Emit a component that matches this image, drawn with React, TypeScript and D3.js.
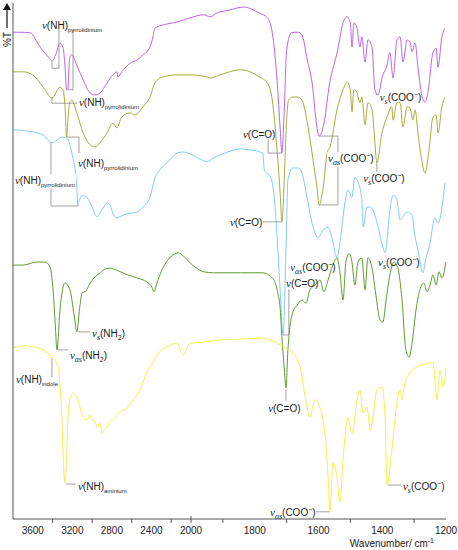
import React, { useEffect, useRef } from "react";
import * as d3 from "d3";

// spectra: [wavenumber / cm-1, %T (offset, arbitrary)]
const purple: [number, number][] = [
  [3800, 94.7], [3730, 94.7], [3630, 94.6], [3525, 91.8], [3425, 89.5], [3405, 89.1], [3365, 90.5],
  [3325, 92.6], [3295, 91.8], [3275, 88.3], [3258, 83.5], [3245, 83.5], [3235, 87.4], [3225, 89.9],
  [3205, 90.3], [3155, 88.3], [3090, 85.4], [3020, 82.9], [2970, 82.5], [2920, 82.9], [2850, 84.8],
  [2790, 86.4], [2750, 87.0], [2740, 86.0], [2700, 87.0], [2615, 88.7], [2545, 89.3], [2485, 90.3],
  [2415, 91.8], [2385, 93.8], [2365, 95.5], [2285, 96.1], [2140, 96.7], [2010, 97.5], [1960, 98.1],
  [1940, 97.7], [1920, 98.4], [1880, 99.0], [1835, 99.6], [1785, 98.4], [1760, 97.5], [1745, 94.6],
  [1730, 85.4], [1720, 75.7], [1715, 71.2], [1708, 78.6], [1700, 91.2], [1685, 94.6], [1665, 94.7],
  [1652, 94.2], [1635, 89.3], [1620, 84.8], [1605, 76.3], [1598, 74.5], [1585, 76.3], [1565, 84.8],
  [1540, 91.2], [1523, 96.5], [1510, 97.7], [1500, 96.5], [1495, 91.8], [1489, 96.5], [1480, 95.7],
  [1470, 91.8], [1464, 93.8], [1454, 88.9], [1445, 93.2], [1432, 91.8], [1423, 83.5], [1413, 82.5],
  [1400, 86.0], [1385, 88.3], [1376, 90.7], [1366, 85.8], [1354, 93.2], [1344, 93.8], [1335, 88.9],
  [1322, 93.2], [1313, 92.8], [1307, 90.9], [1297, 92.6], [1288, 87.9], [1276, 82.5], [1266, 81.1],
  [1257, 82.9], [1241, 90.7], [1231, 91.6], [1225, 87.9], [1213, 93.8], [1203, 95.5],
];

const olive: [number, number][] = [
  [3800, 87.0], [3700, 87.0], [3600, 86.4], [3495, 84.0], [3405, 81.9], [3325, 84.0], [3295, 83.5],
  [3275, 80.5], [3258, 74.3], [3245, 77.6], [3225, 81.1], [3205, 81.5], [3155, 79.0], [3090, 75.1],
  [3020, 72.8], [2970, 72.4], [2920, 73.2], [2850, 75.1], [2790, 77.0], [2750, 76.1], [2700, 78.2],
  [2615, 79.0], [2565, 78.6], [2485, 80.2], [2415, 82.1], [2365, 84.8], [2285, 86.0], [2140, 86.4],
  [2010, 86.4], [1950, 86.0], [1940, 85.8], [1900, 86.6], [1845, 87.4], [1785, 86.0], [1760, 84.8],
  [1745, 81.5], [1730, 71.8], [1720, 63.0], [1715, 57.8], [1708, 65.0], [1702, 75.1], [1694, 81.5],
  [1680, 82.1], [1667, 82.1], [1652, 81.5], [1633, 76.3], [1617, 69.8], [1605, 64.6], [1598, 61.1],
  [1585, 64.6], [1573, 71.2], [1564, 72.4], [1542, 79.6], [1523, 83.5], [1510, 85.0], [1500, 83.5],
  [1495, 79.2], [1489, 83.5], [1480, 83.1], [1470, 81.0], [1464, 82.1], [1454, 76.7], [1445, 81.0],
  [1432, 79.6], [1423, 73.2], [1417, 69.3], [1401, 75.1], [1385, 78.2], [1370, 80.2], [1366, 77.6],
  [1354, 81.0], [1344, 81.0], [1335, 76.3], [1322, 80.2], [1313, 80.0], [1304, 77.6], [1297, 79.6],
  [1288, 75.1], [1276, 69.8], [1266, 67.3], [1257, 70.0], [1250, 73.7], [1241, 78.2], [1231, 78.6],
  [1225, 75.1], [1213, 80.2], [1203, 82.1],
];

const lightBlue: [number, number][] = [
  [3800, 75.7], [3660, 75.5], [3495, 74.7], [3405, 73.2], [3355, 73.7], [3305, 74.3], [3255, 74.1],
  [3205, 71.2], [3155, 64.6], [3145, 61.5], [3100, 63.0], [3050, 62.5], [3000, 60.7], [2950, 58.8],
  [2900, 60.1], [2850, 61.5], [2820, 61.1], [2790, 59.5], [2750, 58.6], [2690, 59.1], [2615, 59.5],
  [2545, 59.7], [2485, 60.7], [2415, 62.6], [2365, 66.3], [2315, 67.9], [2215, 69.8], [2140, 71.2],
  [2080, 71.4], [1995, 70.8], [1965, 69.8], [1950, 69.5], [1930, 70.2], [1885, 71.4], [1845, 72.0],
  [1815, 71.8], [1775, 71.2], [1770, 67.9], [1750, 66.5], [1737, 61.5], [1727, 51.8], [1721, 45.3],
  [1711, 35.8], [1702, 52.3], [1696, 66.0], [1680, 68.3], [1664, 68.3], [1652, 67.3], [1636, 62.6],
  [1617, 56.8], [1602, 54.7], [1586, 56.2], [1570, 56.8], [1558, 54.7], [1542, 50.8], [1533, 53.7],
  [1517, 61.5], [1508, 64.0], [1495, 62.6], [1486, 66.5], [1476, 65.6], [1464, 62.1], [1460, 56.8],
  [1448, 60.7], [1438, 60.7], [1429, 60.1], [1413, 56.8], [1398, 52.9], [1391, 51.8], [1376, 60.1],
  [1366, 63.0], [1354, 62.1], [1344, 58.2], [1335, 58.8], [1322, 59.7], [1307, 59.1], [1297, 54.9],
  [1288, 52.3], [1272, 47.9], [1266, 49.8], [1250, 53.7], [1235, 58.6], [1225, 57.6], [1203, 65.4],
];

const green: [number, number][] = [
  [3800, 49.4], [3700, 49.4], [3555, 50.0], [3475, 50.0], [3425, 49.0], [3395, 44.6], [3375, 38.7],
  [3355, 32.9], [3325, 40.7], [3275, 45.9], [3225, 44.6], [3175, 38.7], [3155, 36.4], [3125, 41.2],
  [3100, 44.0], [3070, 44.2], [3020, 45.9], [2970, 47.1], [2920, 47.9], [2890, 48.4], [2820, 48.8],
  [2750, 48.4], [2645, 47.5], [2545, 46.9], [2445, 46.1], [2395, 45.1], [2375, 44.2], [2345, 45.9],
  [2295, 48.4], [2215, 50.8], [2130, 51.8], [2080, 51.2], [1995, 49.4], [1960, 48.1], [1930, 47.9],
  [1845, 47.9], [1775, 47.9], [1745, 46.9], [1730, 44.6], [1720, 40.7], [1715, 35.5], [1708, 29.8],
  [1702, 25.5], [1696, 32.9], [1689, 37.7], [1680, 40.3], [1667, 41.6], [1652, 42.6], [1639, 42.0],
  [1627, 44.6], [1611, 45.5], [1595, 46.5], [1583, 44.2], [1570, 46.5], [1555, 49.4], [1542, 50.8],
  [1533, 48.1], [1523, 42.6], [1514, 50.0], [1504, 51.6], [1495, 50.0], [1486, 45.5], [1476, 50.0],
  [1464, 50.8], [1454, 44.6], [1445, 50.8], [1432, 48.8], [1420, 43.6], [1407, 38.7], [1398, 38.3],
  [1388, 42.6], [1376, 47.5], [1363, 50.0], [1351, 48.8], [1338, 42.6], [1326, 32.9], [1316, 31.5],
  [1307, 33.9], [1294, 40.7], [1282, 44.6], [1269, 45.9], [1260, 44.2], [1250, 45.5], [1241, 47.5],
  [1231, 45.5], [1222, 48.1], [1213, 46.9], [1200, 50.0],
];

const yellow: [number, number][] = [
  [3800, 33.3], [3660, 33.7], [3600, 33.5], [3495, 32.9], [3405, 31.5], [3345, 29.6], [3325, 26.1],
  [3305, 19.3], [3295, 13.4], [3275, 7.0], [3255, 13.4], [3245, 19.3], [3225, 23.2], [3195, 24.5],
  [3145, 23.2], [3090, 19.8], [3050, 19.3], [3020, 20.2], [3000, 19.3], [2970, 18.9], [2950, 17.9],
  [2920, 18.7], [2900, 16.7], [2870, 17.6], [2850, 17.9], [2820, 19.0], [2790, 19.3], [2720, 20.8],
  [2645, 21.6], [2585, 23.2], [2515, 25.1], [2445, 28.6], [2385, 30.5], [2345, 31.9], [2245, 33.5],
  [2140, 34.2], [2080, 31.9], [2010, 34.2], [1960, 34.4], [1920, 34.8], [1845, 35.0], [1785, 35.2],
  [1720, 33.9], [1696, 32.9], [1680, 32.3], [1658, 29.6], [1636, 21.8], [1627, 19.8], [1611, 23.2],
  [1602, 22.6], [1580, 16.7], [1570, 8.2], [1564, 1.4], [1555, 10.9], [1542, 8.2], [1533, 3.3],
  [1523, 11.5], [1508, 19.8], [1495, 16.7], [1479, 23.2], [1470, 25.1], [1460, 20.6], [1448, 21.8],
  [1438, 17.3], [1429, 19.8], [1417, 25.1], [1401, 25.7], [1391, 19.8], [1385, 6.6], [1370, 13.4],
  [1354, 22.6], [1344, 25.1], [1338, 23.2], [1329, 26.5], [1313, 28.4], [1291, 29.6], [1272, 30.0],
  [1241, 30.4], [1228, 23.2], [1219, 29.0], [1209, 25.7], [1200, 29.4],
];

const spectra = [
  { data: purple, color: "#b865e8" },
  { data: olive, color: "#a6ad3c" },
  { data: lightBlue, color: "#82cdf2" },
  { data: green, color: "#5f9b30" },
  { data: yellow, color: "#f2f24c" },
];

const majorTicks = [3600, 3200, 2800, 2400, 2000, 1800, 1600, 1400, 1200];
const minorTicks = [3400, 3000, 2600, 2200, 2000, 1900, 1700, 1500, 1300];

// label text pieces: nu = greek nu, nsub = subscript of nu, sub / sup on the body
type Part = [string, "nu" | "nsub" | "txt" | "sub" | "sup"];
const nhPyr: Part[] = [["ν", "nu"], ["(NH)", "txt"], ["pyrrolidinium", "sub"]];
const co: Part[] = [["ν", "nu"], ["(C=O)", "txt"]];
const asCoo: Part[] = [["ν", "nu"], ["as", "nsub"], ["(COO", "txt"], ["−", "sup"], [")", "txt"]];
const sCoo: Part[] = [["ν", "nu"], ["s", "nsub"], ["(COO", "txt"], ["−", "sup"], [")", "txt"]];
const asNh2: Part[] = [["ν", "nu"], ["as", "nsub"], ["(NH", "txt"], ["2", "sub"], [")", "txt"]];
const sNh2: Part[] = [["ν", "nu"], ["s", "nsub"], ["(NH", "txt"], ["2", "sub"], [")", "txt"]];
const nhIndole: Part[] = [["ν", "nu"], ["(NH)", "txt"], ["indole", "sub"]];
const nhAminium: Part[] = [["ν", "nu"], ["(NH)", "txt"], ["aminium", "sub"]];

// anchors in [wavenumber, %T]
const labels: { at: [number, number]; parts: Part[]; bg?: boolean }[] = [
  { at: [3507, 95.3], parts: nhPyr },
  { at: [3133, 80.3], parts: nhPyr },
  { at: [3143, 68.4], parts: nhPyr },
  { at: [3780, 65.1], parts: nhPyr, bg: true },
  { at: [1837, 74.2], parts: co },
  { at: [1570, 69.4], parts: asCoo, bg: true },
  { at: [1408, 81.4], parts: sCoo },
  { at: [1878, 57.1], parts: co },
  { at: [1460, 65.5], parts: sCoo },
  { at: [1689, 48.3], parts: asCoo },
  { at: [1702, 45.2], parts: co },
  { at: [1413, 49.3], parts: sCoo },
  { at: [3001, 35.5], parts: sNh2 },
  { at: [3224, 31.2], parts: asNh2 },
  { at: [3770, 26.4], parts: nhIndole },
  { at: [1758, 20.9], parts: co },
  { at: [3143, 5.7], parts: nhAminium },
  { at: [1752, 0.5], parts: asCoo },
  { at: [1335, 5.7], parts: sCoo },
];

const leaders: [number, number][][] = [
  [[3335, 95.3], [3335, 87.7], [3406, 87.7], [3406, 89.1]],
  [[3193, 95.3], [3193, 83.5], [3244, 83.5]],
  [[3406, 81.9], [3406, 80.9], [3153, 80.9]],
  [[3254, 74.3], [3133, 74.3], [3133, 71.2]],
  [[3416, 73.2], [3416, 60.9], [3143, 60.9], [3143, 61.5]],
  [[1758, 73.9], [1758, 71.2], [1715, 71.2]],
  [[1598, 74.5], [1539, 74.5], [1539, 61.1], [1598, 61.1]],
  [[1420, 82.6], [1410, 82.6]],
  [[1774, 57.8], [1715, 57.8]],
  [[1417, 69.3], [1417, 67.5]],
  [[1693, 44.7], [1693, 35.8], [1711, 35.8]],
  [[3143, 36.4], [3022, 36.4]],
  [[3345, 32.9], [3244, 32.9]],
  [[3406, 31.3], [3406, 27.6]],
  [[1702, 25.3], [1702, 23.0]],
  [[3264, 6.8], [3163, 6.8]],
  [[1608, 1.4], [1567, 1.4]],
  [[1382, 6.6], [1341, 6.6]],
];

const W = 458;
const H = 550;

const App = () => {
  const svgRef = useRef<SVGSVGElement>(null);

  useEffect(() => {
    const svg = d3.select(svgRef.current);
    svg.selectAll("*").remove();

    // broken-scale x axis: 3800-2000 compressed, 2000-1200 stretched
    const x = d3.scaleLinear().domain([3800, 2000, 1200]).range([13, 191, 446]);
    const y = d3.scaleLinear().domain([0, 100]).range([519, 5]);

    const line = d3
      .line<[number, number]>()
      .x((d) => x(d[0]))
      .y((d) => y(d[1]))
      .curve(d3.curveMonotoneX);

    spectra.forEach((s) => {
      svg
        .append("path")
        .datum(s.data)
        .attr("d", line)
        .attr("fill", "none")
        .attr("stroke", s.color)
        .attr("stroke-width", 1);
    });

    // leader lines
    const lead = d3
      .line<[number, number]>()
      .x((d) => x(d[0]))
      .y((d) => y(d[1]));
    leaders.forEach((l) => {
      svg
        .append("path")
        .attr("d", lead(l))
        .attr("fill", "none")
        .attr("stroke", "#8a8a8a")
        .attr("stroke-width", 0.8);
    });

    // band labels
    labels.forEach((lab) => {
      const g = svg.append("g");
      const t = g
        .append("text")
        .attr("x", x(lab.at[0]))
        .attr("y", y(lab.at[1]))
        .attr("font-family", "Liberation Sans, Arial, sans-serif")
        .attr("font-size", 10)
        .attr("fill", "#1a1a1a");
      let shift = 0;
      lab.parts.forEach(([s, k]) => {
        const target = k === "sub" || k === "nsub" ? 3 : k === "sup" ? -4 : 0;
        const ts = t.append("tspan").attr("dy", target - shift).text(s);
        shift = target;
        if (k === "nu") {
          ts.attr("font-family", "Liberation Serif, serif").attr("font-style", "italic").attr("font-size", 11);
        } else if (k === "nsub") {
          ts.attr("font-family", "Liberation Serif, serif").attr("font-style", "italic").attr("font-size", 8);
        } else if (k === "sub") {
          ts.attr("font-size", s.length > 2 ? 6 : 7);
        } else if (k === "sup") {
          ts.attr("font-size", 7);
        }
      });
      if (lab.bg) {
        const b = (t.node() as SVGTextElement).getBBox();
        g.insert("rect", "text")
          .attr("x", b.x - 1)
          .attr("y", b.y)
          .attr("width", b.width + 2)
          .attr("height", b.height)
          .attr("fill", "#fff");
      }
    });

    // axes
    const axis = svg.append("g").attr("stroke", "#555").attr("stroke-width", 1);
    axis.append("line").attr("x1", 13).attr("x2", 13).attr("y1", 3).attr("y2", y(0));
    axis.append("line").attr("x1", 13).attr("x2", x(1200)).attr("y1", y(0)).attr("y2", y(0));
    minorTicks.forEach((v) => {
      axis
        .append("line")
        .attr("x1", x(v))
        .attr("x2", x(v))
        .attr("y1", y(0) - (v === 2000 ? 3 : 0))
        .attr("y2", y(0) + 4);
    });

    svg
      .append("g")
      .selectAll("text")
      .data(majorTicks)
      .enter()
      .append("text")
      .attr("x", (d) => x(d))
      .attr("y", y(0) + 15)
      .attr("text-anchor", "middle")
      .attr("font-family", "Liberation Sans, Arial, sans-serif")
      .attr("font-size", 10)
      .attr("fill", "#222")
      .text((d) => d);

    const xl = svg
      .append("text")
      .attr("x", 434)
      .attr("y", y(0) + 28)
      .attr("text-anchor", "end")
      .attr("font-family", "Liberation Sans, Arial, sans-serif")
      .attr("font-size", 10)
      .attr("fill", "#222");
    xl.append("tspan").text("Wavenumber/ cm");
    xl.append("tspan").attr("dy", -4).attr("font-size", 7).text("-1");

    // %T with arrow
    svg
      .append("line")
      .attr("x1", 7)
      .attr("x2", 7)
      .attr("y1", 28)
      .attr("y2", 8)
      .attr("stroke", "#111")
      .attr("stroke-width", 1.2);
    svg.append("path").attr("d", "M3,10 L7,3 L11,10 Z").attr("fill", "#111");
    svg
      .append("text")
      .attr("transform", "translate(11,47) rotate(-90)")
      .attr("font-family", "Liberation Sans, Arial, sans-serif")
      .attr("font-size", 10)
      .attr("fill", "#111")
      .text("%T");
  }, []);

  return (
    <svg
      ref={svgRef}
      width={W}
      height={H}
      style={{ position: "absolute", left: 0, top: 0, background: "#fff" }}
    />
  );
};

export default App;
